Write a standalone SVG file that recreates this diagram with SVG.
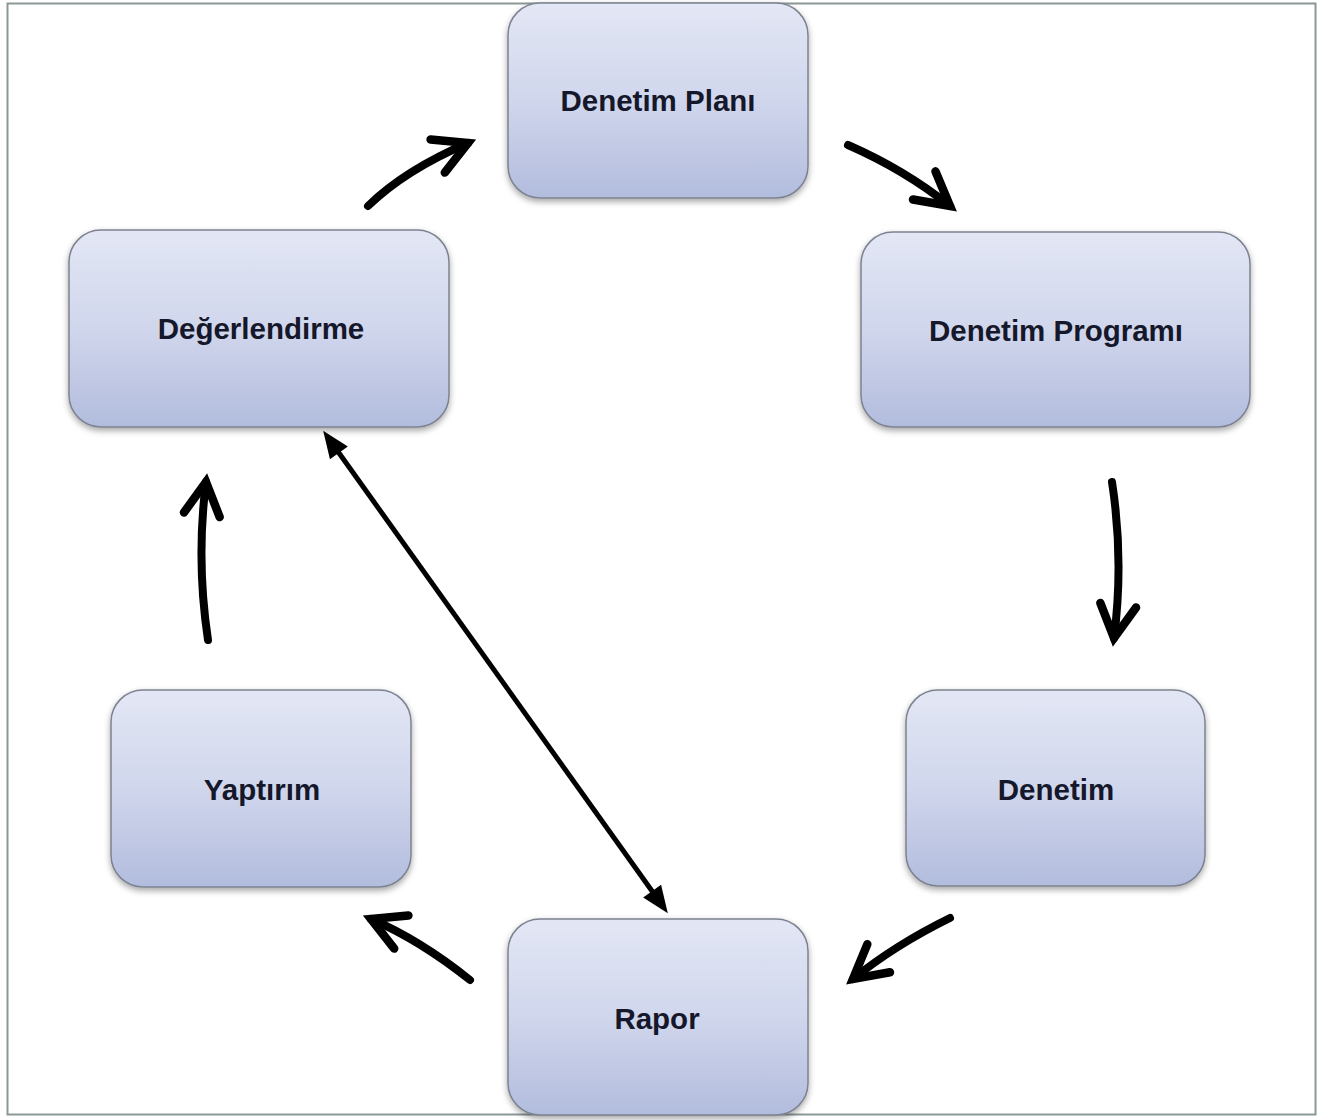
<svg xmlns="http://www.w3.org/2000/svg" width="1321" height="1120" viewBox="0 0 1321 1120">
<style>
.box{fill:url(#g);stroke:#7d8290;stroke-width:1.5;filter:url(#sh)}
.lbl{font-family:"Liberation Sans",Arial,sans-serif;font-weight:bold;font-size:29.5px;fill:#15172a;text-anchor:middle}
.arr{fill:none;stroke:#000;stroke-width:8;stroke-linecap:round;marker-end:url(#chev)}
.dbl{fill:none;stroke:#000;stroke-width:5;marker-start:url(#tri);marker-end:url(#tri)}
</style>
<defs>
<linearGradient id="g" x1="0" y1="0" x2="0" y2="1">
<stop offset="0" stop-color="#e3e7f5"/>
<stop offset="0.5" stop-color="#d0d6ec"/>
<stop offset="1" stop-color="#b2bcdd"/>
</linearGradient>
<filter id="sh" x="-10%" y="-10%" width="120%" height="130%">
<feDropShadow dx="0" dy="3" stdDeviation="3" flood-color="#000" flood-opacity="0.35"/>
</filter>
<marker id="chev" markerUnits="userSpaceOnUse" viewBox="-45 -30 60 60" markerWidth="60" markerHeight="60" refX="0" refY="0" orient="auto" overflow="visible">
<path d="M -33 -18 L 0 0 L -33 18" fill="none" stroke="#000" stroke-width="8.5" stroke-linecap="round" stroke-linejoin="miter"/>
</marker>
<marker id="tri" markerUnits="userSpaceOnUse" viewBox="-30 -15 45 30" markerWidth="45" markerHeight="30" refX="0" refY="0" orient="auto-start-reverse" overflow="visible">
<path d="M -17 -11 L 10 0 L -17 11 Z" fill="#000"/>
</marker>
</defs>
<rect x="0" y="0" width="1321" height="1120" fill="#fff"/>
<rect x="7.5" y="3.5" width="1308" height="1111" fill="#fff" stroke="#8c9898" stroke-width="2"/>
<g id="connectors">
<path class="arr" d="M 368 206 Q 405 170 468 143"/>
<path class="arr" d="M 848 145 Q 905 170 950 206"/>
<path class="arr" d="M 1112 482 Q 1124 560 1114 638"/>
<path class="arr" d="M 950 918 Q 895 945 853 979"/>
<path class="arr" d="M 470 980 Q 420 940 371 919"/>
<path class="arr" d="M 208 640 Q 196 560 206 482"/>
<path class="dbl" d="M 329 439 L 662 905"/>
</g>
<g id="n-plan"><rect class="box" x="508" y="3" width="300" height="195" rx="32"/><text class="lbl" x="658" y="111">Denetim Planı</text></g>
<g id="n-program"><rect class="box" x="861" y="232" width="389" height="195" rx="32"/><text class="lbl" x="1056" y="341">Denetim Programı</text></g>
<g id="n-degerlendirme"><rect class="box" x="69" y="230" width="380" height="197" rx="32"/><text class="lbl" x="261" y="339">Değerlendirme</text></g>
<g id="n-denetim"><rect class="box" x="906" y="690" width="299" height="196" rx="32"/><text class="lbl" x="1056" y="800">Denetim</text></g>
<g id="n-yaptirim"><rect class="box" x="111" y="690" width="300" height="197" rx="32"/><text class="lbl" x="262" y="800">Yaptırım</text></g>
<g id="n-rapor"><rect class="box" x="508" y="919" width="300" height="196" rx="32"/><text class="lbl" x="657" y="1029">Rapor</text></g>
</svg>
